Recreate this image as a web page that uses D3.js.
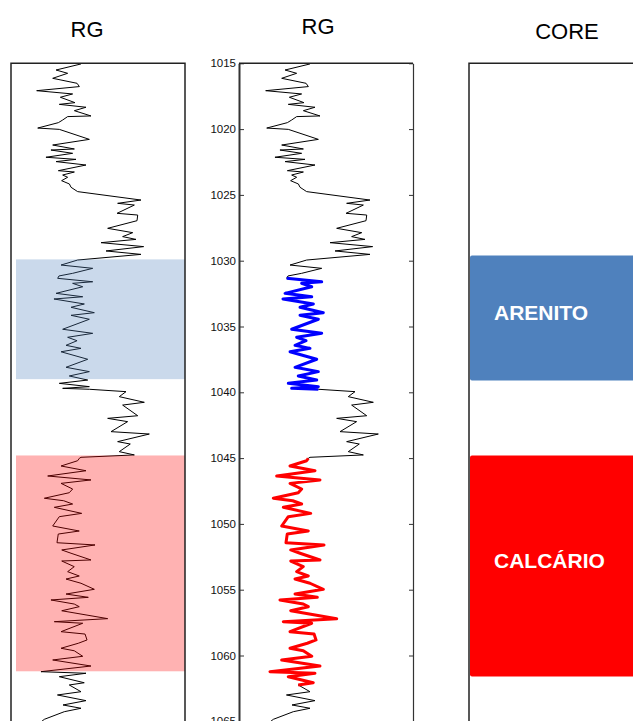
<!DOCTYPE html>
<html>
<head>
<meta charset="utf-8">
<script src="https://cdn.jsdelivr.net/npm/d3@7"></script>
<style>
  body { margin: 0; background: #fff; }
  text { font-family: "Liberation Sans", Arial, sans-serif; }
</style>
</head>
<body>
<div id="chart"></div>
<script>
var depth = [1015.05,1015.51,1015.76,1016.14,1016.52,1016.77,1017.08,1017.33,1017.58,1017.99,1018.12,1018.34,1018.60,1019.00,1019.05,1019.31,1019.51,1019.92,1020.02,1020.78,1021.21,1021.51,1021.59,1021.84,1022.14,1022.30,1022.47,1022.73,1023.16,1023.26,1023.49,1023.66,1023.92,1024.17,1024.42,1024.75,1025.39,1025.64,1025.77,1026.40,1026.53,1026.96,1027.54,1027.87,1028.17,1028.38,1028.63,1028.93,1029.26,1029.52,1029.95,1030.33,1030.58,1030.96,1031.16,1031.34,1031.60,1031.72,1031.98,1032.48,1032.74,1032.91,1033.29,1033.54,1033.95,1034.15,1034.45,1035.21,1035.52,1035.82,1036.08,1036.43,1036.66,1036.92,1037.49,1038.10,1038.43,1038.76,1039.07,1039.32,1039.57,1039.70,1039.77,1039.95,1040.33,1040.76,1040.97,1041.78,1041.98,1042.23,1042.99,1043.17,1043.75,1043.93,1044.51,1044.76,1044.94,1045.02,1045.20,1045.60,1045.96,1046.36,1046.66,1046.92,1047.35,1047.63,1048.05,1048.24,1048.49,1048.74,1049.20,1049.45,1050.16,1050.54,1050.77,1051.43,1051.60,1051.98,1052.23,1052.74,1052.82,1053.25,1053.63,1053.96,1054.19,1054.51,1054.97,1055.33,1055.58,1055.78,1056.09,1056.29,1056.60,1057.20,1057.43,1057.55,1058.19,1058.37,1058.82,1059.07,1059.45,1059.64,1060.06,1060.34,1060.80,1061.23,1061.35,1061.61,1062.07,1062.24,1062.75,1063.00,1063.43,1063.76,1064.01,1064.27,1064.85,1065.05];
var rg = [61.2,39.7,49.7,36.8,57.8,59.8,23.0,54.0,43.4,56.0,42.5,65.5,55.5,69.8,49.7,45.4,41.7,23.9,42.5,68.4,36.8,55.5,35.3,54.0,31.0,56.9,39.7,65.5,41.7,55.5,45.4,49.7,44.5,51.2,52.6,58.3,112.9,92.8,107.2,92.3,110.1,109.5,84.2,105.8,97.1,108.6,78.5,115.2,82.8,112.9,58.3,44.0,71.3,54.0,42.2,41.1,71.3,54.0,62.7,39.7,62.7,37.9,64.1,52.6,72.7,52.6,68.4,45.4,71.3,49.7,57.8,48.3,61.2,44.0,67.0,48.3,68.4,51.1,67.0,42.5,68.4,45.4,68.4,100.0,94.2,115.8,97.1,110.1,84.2,101.4,87.1,120.1,92.8,103.7,94.2,107.2,61.2,59.7,58.3,44.0,65.5,32.5,69.8,44.0,54.0,51.1,29.6,46.3,54.0,38.2,61.8,42.5,36.8,59.7,41.6,40.5,73.3,44.6,52.6,69.8,44.6,55.4,49.7,59.7,48.3,61.2,72.7,48.3,67.5,35.3,55.4,59.7,44.6,84.2,38.2,62.7,44.0,64.7,66.4,58.9,44.0,55.4,62.7,36.8,69.8,26.7,65.5,42.5,64.0,51.1,61.2,40.9,65.5,45.7,61.2,46.8,29.6,26.7];

var depthTicks = [1015,1020,1025,1030,1035,1040,1045,1050,1055,1060,1065];
var rgDomain = [0, 150];

// highlighted intervals on the curve (panel 2)
var curveZones = [
  { top: 1031.3, base: 1039.8, color: "#0000ff" },
  { top: 1045.0, base: 1062.3, color: "#ff0000" }
];
// shaded intervals (panel 1)
var shadeZones = [
  { top: 1029.9, base: 1039.0, color: "#4f81bd" },
  { top: 1044.8, base: 1061.2, color: "#ff0000" }
];
// core description
var coreZones = [
  { top: 1029.6, base: 1039.1, color: "#4f81bd", label: "ARENITO" },
  { top: 1044.8, base: 1061.6, color: "#ff0000", label: "CALCÁRIO" }
];

var W = 633, H = 721;
var data = depth.map(function (d, i) { return { depth: d, rg: rg[i] }; });

var svg = d3.select("#chart").append("svg")
  .attr("width", W).attr("height", H);

var y = d3.scaleLinear().domain([1015, 1065]).range([63.3, 721.3]);

// panel 1
var p1 = { left: 11, right: 185 };
var x1 = d3.scaleLinear().domain(rgDomain).range([p1.left - 1, p1.right - 1]);
var line1 = d3.line().x(function (d) { return x1(d.rg); }).y(function (d) { return y(d.depth); });

svg.append("path").datum(data)
  .attr("d", line1)
  .attr("fill", "none").attr("stroke", "#000").attr("stroke-width", 1);

svg.selectAll(".shade").data(shadeZones).enter().append("rect")
  .attr("x", 16).attr("width", p1.right - 16)
  .attr("y", function (d) { return y(d.top); })
  .attr("height", function (d) { return y(d.base) - y(d.top); })
  .attr("fill", function (d) { return d.color; })
  .attr("fill-opacity", 0.3);

svg.append("path")
  .attr("d", "M" + p1.left + "," + H + "V" + y(1015) + "H" + p1.right + "V" + H)
  .attr("fill", "none").attr("stroke", "#222").attr("stroke-width", 1.5);

svg.append("text").attr("x", 87).attr("y", 37)
  .attr("text-anchor", "middle").attr("font-size", 22).text("RG");

// panel 2
var p2 = { left: 239, right: 413 };
var x2 = d3.scaleLinear().domain(rgDomain).range([p2.left, p2.right]);
var line2 = d3.line().x(function (d) { return x2(d.rg); }).y(function (d) { return y(d.depth); });

svg.append("path").datum(data)
  .attr("d", line2)
  .attr("fill", "none").attr("stroke", "#000").attr("stroke-width", 1);

curveZones.forEach(function (z) {
  var seg = data.filter(function (d) { return d.depth >= z.top && d.depth <= z.base; });
  svg.append("path").datum(seg)
    .attr("d", line2)
    .attr("fill", "none").attr("stroke", z.color)
    .attr("stroke-width", 3).attr("stroke-linejoin", "round");
});

var axisL = svg.append("g")
  .attr("transform", "translate(" + p2.left + ",0)")
  .call(d3.axisLeft(y).tickValues(depthTicks).tickFormat(d3.format("d")).tickSizeInner(-5).tickSizeOuter(0).tickPadding(3));
axisL.select(".domain").attr("stroke", "#333").attr("stroke-width", 2);
axisL.selectAll("text").attr("font-size", 11.5).attr("fill", "#111")
  .attr("font-family", "'Liberation Sans', Arial, sans-serif");
axisL.selectAll(".tick line").attr("stroke", "#333");

var axisR = svg.append("g")
  .attr("transform", "translate(" + p2.right + ",0)")
  .call(d3.axisRight(y).tickValues(depthTicks).tickFormat("").tickSizeInner(-4).tickSizeOuter(0));
axisR.select(".domain").attr("stroke", "#333").attr("stroke-width", 1.2);
axisR.selectAll(".tick line").attr("stroke", "#333");

svg.append("line")
  .attr("x1", p2.left).attr("x2", p2.right)
  .attr("y1", y(1015)).attr("y2", y(1015))
  .attr("stroke", "#222").attr("stroke-width", 1.5);

svg.append("text").attr("x", 318).attr("y", 34)
  .attr("text-anchor", "middle").attr("font-size", 22).text("RG");

// panel 3 (core)
var p3 = { left: 469 };
svg.selectAll(".core").data(coreZones).enter().append("rect")
  .attr("x", p3.left + 1).attr("width", W - p3.left + 5)
  .attr("y", function (d) { return y(d.top); })
  .attr("height", function (d) { return y(d.base) - y(d.top); })
  .attr("rx", 2)
  .attr("fill", function (d) { return d.color; });

svg.selectAll(".coreLabel").data(coreZones).enter().append("text")
  .attr("x", 494)
  .attr("y", function (d) { return (y(d.top) + y(d.base)) / 2 + 2; })
  .attr("font-size", 21).attr("font-weight", "bold").attr("fill", "#fff")
  .text(function (d) { return d.label; });

svg.append("path")
  .attr("d", "M" + p3.left + "," + H + "V" + y(1015) + "H" + W)
  .attr("fill", "none").attr("stroke", "#222").attr("stroke-width", 1.5);

svg.append("text").attr("x", 567).attr("y", 39)
  .attr("text-anchor", "middle").attr("font-size", 22).text("CORE");
</script>
</body>
</html>
